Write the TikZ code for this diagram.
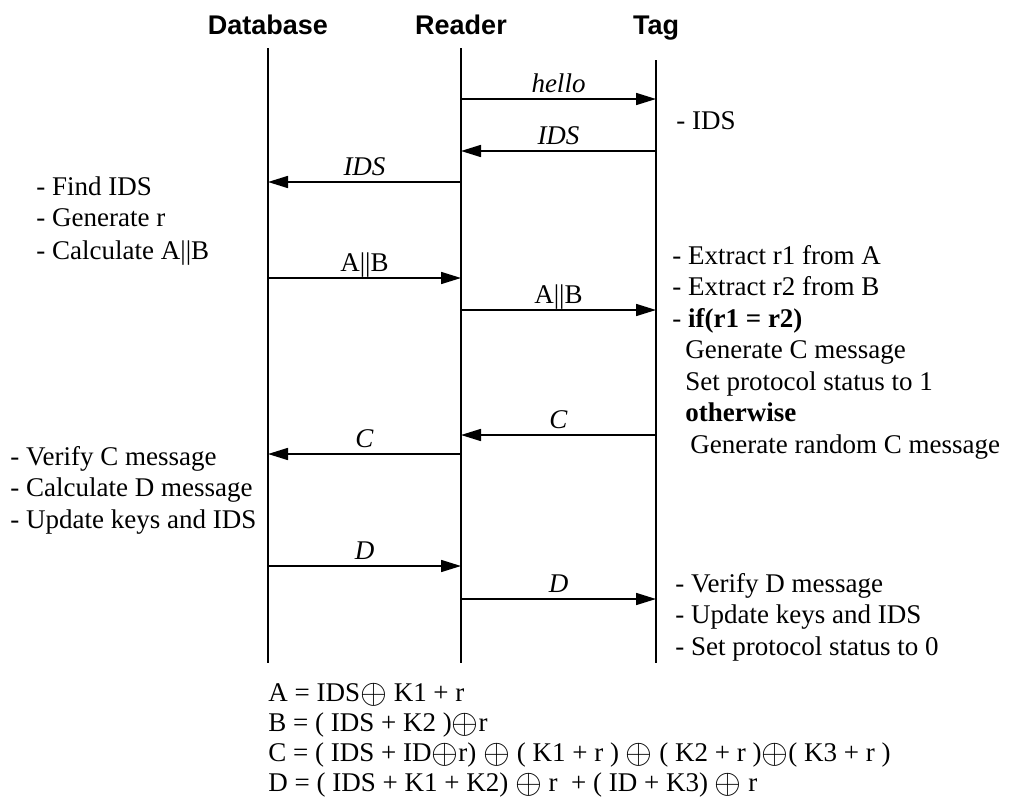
\documentclass[tikz,border=0pt]{standalone}
\usepackage{graphicx}
\usepackage{fontspec}
\setmainfont{Liberation Serif}
\setsansfont{Liberation Sans}
\usetikzlibrary{arrows.meta}
\newcommand{\xo}{\raisebox{-1.3pt}{\scalebox{1.2}{$\oplus$}}}

\begin{document}
\begin{tikzpicture}[x=0.5pt,y=-0.5pt,
  every node/.style={font=\fontsize{13.5}{15.75}\selectfont, inner sep=0pt},
  head/.style={font=\fontsize{13.5}{15.75}\selectfont\sffamily\bfseries, anchor=base},
  life/.style={line width=0.9pt},
  msg/.style={line width=0.8pt, -{Triangle[length=10pt,width=6pt]}},
  lbl/.style={midway, anchor=base, yshift=3.5pt},
  note/.style={anchor=base west}]
\useasboundingbox (0,0) rectangle (1009,803);

% lifelines
\coordinate (db) at (268,48);
\coordinate (rd) at (461,48);
\coordinate (tg) at (656,60);
\coordinate (dbend) at (268,663);
\coordinate (rdend) at (461,663);
\coordinate (tgend) at (656,663);
\node[head] (dbhead) at (db |- 0,34) {Database};
\node[head] (rdhead) at (rd |- 0,34) {Reader};
\node[head] (tghead) at (tg |- 0,34) {Tag};
\draw[life] (db) -- (dbend);
\draw[life] (rd) -- (rdend);
\draw[life] (tg) -- (tgend);

% messages
\foreach \a/\b/\y/\t [count=\i] in {rd/tg/99/\textit{hello}, tg/rd/151/\textit{IDS},
    rd/db/182/\textit{IDS}, db/rd/278/A||B, rd/tg/310/A||B, tg/rd/435/\textit{C},
    rd/db/454/\textit{C}, db/rd/566/\textit{D}, rd/tg/599/\textit{D}}
  \draw[msg] (\a |- 0,\y) -- node[lbl] (m\i) {\t} (\b |- 0,\y);

% notes
\node[note] (ids) at (676,129) {- IDS};
\foreach \t [count=\i from 0] in {- Find IDS, - Generate r, - Calculate A||B}
  \node[note] (dbn\i) at (36,195+32*\i) {\t};
\foreach \x/\t [count=\i from 0] in {672/- Extract r1 from A, 672/- Extract r2 from B,
    672/- \textbf{if(r1 = r2)}, 685/Generate C message, 685/Set protocol status to 1,
    685/\textbf{otherwise}, 690/Generate random C message}
  \node[note] (tgn\i) at (\x,264+31.5*\i) {\t};
\foreach \t [count=\i from 0] in {- Verify C message, - Calculate D message, - Update keys and IDS}
  \node[note] (dbm\i) at (10,465+31.5*\i) {\t};
\foreach \t [count=\i from 0] in {- Verify D message, - Update keys and IDS, - Set protocol status to 0}
  \node[note] (tgm\i) at (675,592+31.5*\i) {\t};

% formulas
\foreach \t [count=\i from 0] in {A = IDS\xo{} K1 + r, B = ( IDS + K2 )\xo r,
    C = ( IDS + ID\xo r) \xo{} ( K1 + r ) \xo{} ( K2 + r )\xo( K3 + r ),
    D = ( IDS + K1 + K2) \xo{} r~ + ( ID + K3) \xo{} r}
  \node[note] (f\i) at (268,701+30*\i) {\t};

\end{tikzpicture}
\end{document}
